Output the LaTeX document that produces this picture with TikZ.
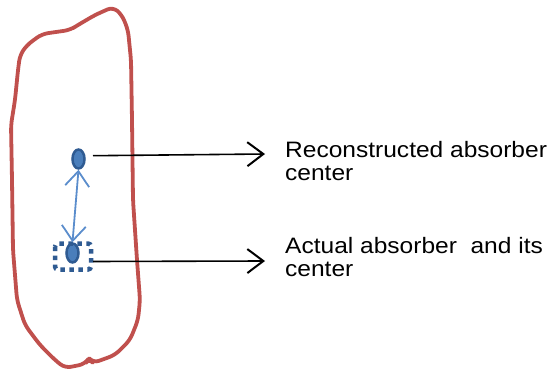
\documentclass[tikz,border=0pt]{standalone}
\usepackage{fontspec}
\setmainfont{Liberation Sans}
\newfontfamily\capfont[FakeStretch=1.1]{Liberation Sans}
\usetikzlibrary{shapes.geometric, arrows.meta, positioning}
\definecolor{rimred}{HTML}{C0504D}
\definecolor{dotblue}{HTML}{2F5B92}
\definecolor{dotfill}{HTML}{4A7EBB}
\definecolor{shiftblue}{HTML}{5B8DCC}
\tikzset{x=1pt, y=-1pt, % pixel-like units, y runs downwards
center/.style={ % the small absorber centres
ellipse, draw=dotblue, fill=dotfill,
line width=2.5pt, minimum width=12pt, minimum height=19pt, inner sep=0pt},
label text/.style={ % right-hand captions
align=left, anchor=north west, inner sep=0pt,
font=\capfont\fontsize{22.3}{23}\selectfont},
barb/.tip={Straight Barb[length=16pt,width=24pt,line width=2pt]},
shiftbarb/.tip={Straight Barb[length=15pt,width=24pt,line width=1.8pt]},
pointer/.style={ % black pointers to the captions
draw, line width=1.6pt, -{barb}}}

\begin{document}
\begin{tikzpicture}
    \useasboundingbox (0,0) rectangle (552,377);

    % outline of the body
    \draw[rimred, line width=3.8pt, line join=round, rounded corners=6pt]
        (113,7) -- (122,15) -- (128,30) -- (131,60) -- (132,120) -- (133,200)
        -- (137,260) -- (140,300) -- (138,320) -- (130,340) -- (115,355)
        -- (93,363) -- (89,358) -- (85,364) -- (65,368) -- (55,360)
        -- (40,345) -- (25,325) -- (17,300) -- (13,250) -- (12,180)
        -- (11,125) -- (15,100) -- (18,70) -- (20,55) -- (27,45) -- (42,34)
        -- (70,30) -- (78,25) -- (95,15) -- cycle;

    \node[center] (rec) at (78.5,159) {};
    \node[center] (act) at (72.5,253) {};
    \draw[dotblue, line width=4.5pt, dash pattern=on 4.5pt off 4.5pt, rounded corners=3pt]
        (55,243.5) rectangle (91,269.5);
    \coordinate (box) at (93,261.5);

    \node[label text] (rectext) at (285,141.4) {Reconstructed absorber\\center};
    \node[label text] (acttext) at (285,237) {Actual absorber~~and its\\center};
    \coordinate (rectip) at (265,154);
    \coordinate (acttip) at (265,261);

    \draw[shiftblue, line width=1.8pt, {shiftbarb}-{shiftbarb}]
        (rec.south) -- (act.north);
    \draw[pointer] (93,155.7) -- (rectip);
    \draw[pointer] (box) -- (acttip);

\end{tikzpicture}
\end{document}
